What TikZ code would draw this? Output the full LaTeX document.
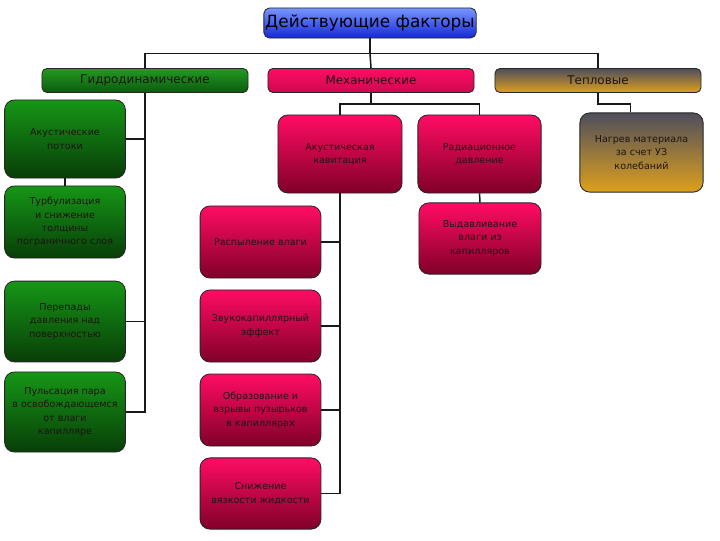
\documentclass[tikz,border=0pt]{standalone}
\usepackage{fontspec}
\setmainfont{DejaVu Sans}
\usepackage{tikz}
\usetikzlibrary{calc}

\definecolor{grtop}{RGB}{22,150,22}
\definecolor{grbot}{RGB}{8,62,8}
\definecolor{pktop}{RGB}{255,12,100}
\definecolor{pkbot}{RGB}{128,0,40}
\definecolor{thtop}{RGB}{78,78,92}
\definecolor{thbot}{RGB}{222,160,28}
\definecolor{bltop}{RGB}{120,150,255}
\definecolor{blbot}{RGB}{20,40,215}
\definecolor{txt}{RGB}{30,20,20}

\begin{document}
\begin{tikzpicture}[x=0.025cm, y=-0.025cm,
    box/.style={draw=black!85, line width=0.6pt, rounded corners=7pt,
        align=center, inner sep=1pt, text=txt,
        font=\fontsize{6.8}{9.5}\selectfont},
    bar/.style={box, rounded corners=3.5pt, minimum width=5.15cm,
        minimum height=0.6cm, font=\fontsize{8.5}{10}\selectfont},
    greenbox/.style={box, top color=grtop, bottom color=grbot},
    pinkbox/.style={box, top color=pktop, bottom color=pkbot},
    heatbox/.style={box, top color=thtop, bottom color=thbot},
    link/.style={draw=black!90, line width=1.1pt}]
  \useasboundingbox (0,0) rectangle (720,540);

  % title and groups
  \node[box, rounded corners=4pt, top color=bltop, bottom color=blbot,
        minimum width=5.25cm, minimum height=0.75cm, text=black,
        font=\fontsize{12}{14}\selectfont] (top) at (370,23) {Действующие факторы};
  \node[bar, top color=grtop!95, bottom color=grtop!60!black] (hydro) at (145,80.5) {Гидродинамические};
  \node[bar, top color=pktop, bottom color=pktop!80!black] (mech) at (371,80.5) {Механические};
  \node[bar, top color=thtop, bottom color=thbot] (therm) at (598,80.5) {Тепловые};

  % hydrodynamic
  \node[greenbox, minimum width=3.02cm, minimum height=1.95cm] (flow) at (65,139) {Акустические\\потоки};
  \node[greenbox, minimum width=3.02cm, minimum height=1.8cm] (turb) at (65,222) {Турбулизация\\и снижение\\толщины\\пограничного слоя};
  \node[greenbox, minimum width=3.02cm, minimum height=2.02cm] (press) at (65,321.5) {Перепады\\давления над\\поверхностью};
  \node[greenbox, minimum width=3.02cm, minimum height=2cm] (pulse) at (65,412) {Пульсация пара\\в освобождающемся\\от влаги\\капилляре};

  % mechanical
  \node[pinkbox, minimum width=3.1cm, minimum height=1.95cm] (cav) at (340,154) {Акустическая\\кавитация};
  \node[pinkbox, minimum width=3.08cm, minimum height=1.95cm] (rad) at (479.5,154) {Радиационное\\давление};
  \node[pinkbox, minimum width=3.05cm, minimum height=1.78cm] (squeeze) at (480,238.5) {Выдавливание\\влаги из\\капилляров};
  \node[pinkbox, minimum width=3.02cm, minimum height=1.8cm] (spray) at (260.5,242) {Распыление влаги};
  \node[pinkbox, minimum width=3.02cm, minimum height=1.8cm] (capil) at (260.5,326) {Звукокапиллярный\\эффект};
  \node[pinkbox, minimum width=3.02cm, minimum height=1.8cm] (bubble) at (260.5,410) {Образование и\\взрывы пузырьков\\в капиллярах};
  \node[pinkbox, minimum width=3.02cm, minimum height=1.78cm] (visc) at (260.5,493.5) {Снижение\\вязкости жидкости};

  % thermal
  \node[heatbox, minimum width=3.08cm, minimum height=1.98cm] (heat) at (641.5,152.5) {Нагрев материала\\за счет УЗ\\колебаний};

  % connectors
  \draw[link] (top.south) -- ++(0,15) coordinate (jt);
  \draw[link] (jt) -| (hydro.north);
  \draw[link] (jt) -| (therm.north);
  \draw[link] (jt) -- (mech.north);

  \draw[link] (hydro.south) |- (pulse.east);
  \draw[link] (flow.east) -- (flow.east -| hydro.south);
  \draw[link] (press.east) -- (press.east -| hydro.south);
  \draw[link] (flow.south) -- (turb.north);

  \draw[link] (mech.south) -- ++(0,11) coordinate (jm);
  \draw[link] (jm) -| (cav.north);
  \draw[link] (jm) -| (rad.north);
  \draw[link] (cav.south) |- (visc.east);
  \draw[link] (spray.east) -- (spray.east -| cav.south);
  \draw[link] (capil.east) -- (capil.east -| cav.south);
  \draw[link] (bubble.east) -- (bubble.east -| cav.south);
  \draw[link] (rad.south) -- (squeeze.north);

  \draw[link] (therm.south) -- ++(0,11) -| ($(heat.north)+(-11,0)$);
\end{tikzpicture}
\end{document}
